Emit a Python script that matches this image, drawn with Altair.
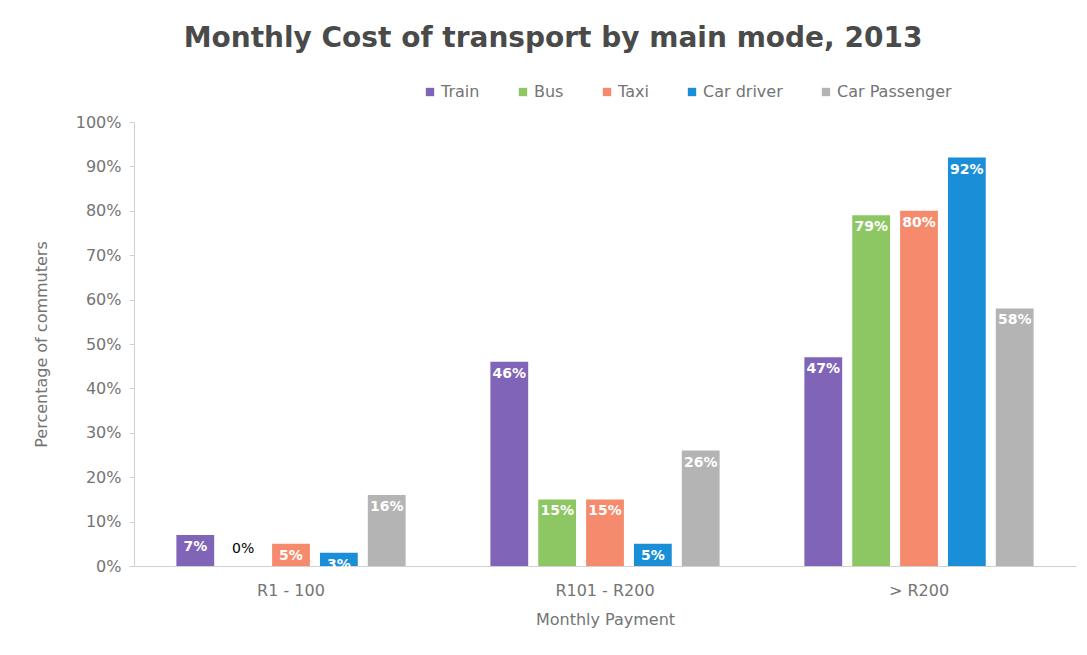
import altair as alt
import pandas as pd

categories = ["R1 - 100", "R101 - R200", "> R200"]
modes = ["Train", "Bus", "Taxi", "Car driver", "Car Passenger"]
train = [7, 46, 47]
bus = [0, 15, 79]
taxi = [5, 15, 80]
car_driver = [3, 5, 92]
car_passenger = [16, 26, 58]
colors = ["#8064B8", "#8DC763", "#F58B6C", "#1A8FD8", "#B4B4B4"]
y_ticks = [0, 0.1, 0.2, 0.3, 0.4, 0.5, 0.6, 0.7, 0.8, 0.9, 1.0]

series = [train, bus, taxi, car_driver, car_passenger]
rows = []
for m, vals in zip(modes, series):
    for c, v in zip(categories, vals):
        rows.append({"Payment": c, "Mode": m, "Value": v / 100.0, "Label": f"{v}%"})
df = pd.DataFrame(rows)

FONT = "DejaVu Sans"
GRAY = "#747474"

x = alt.X("Payment:N", sort=categories,
          scale=alt.Scale(paddingInner=0.27, paddingOuter=0.135),
          axis=alt.Axis(title="Monthly Payment", labelAngle=0, labelFontSize=16,
                        labelColor=GRAY, titleColor=GRAY, titleFontSize=16,
                        titleFontWeight="normal", domainColor="#D0D0D0", ticks=False,
                        labelPadding=16, titlePadding=13, labelFont=FONT, titleFont=FONT))
xo = alt.XOffset("Mode:N", sort=modes, scale=alt.Scale(paddingInner=0.21))
y = alt.Y("Value:Q", scale=alt.Scale(domain=[0, 1]),
          axis=alt.Axis(title="Percentage of commuters", format=".0%",
                        values=y_ticks, grid=False, labelOverlap=False,
                        labelFontSize=16, labelColor=GRAY, titleColor=GRAY,
                        titleFontSize=16, titleFontWeight="normal", domainColor="#D0D0D0",
                        tickColor="#D0D0D0", tickSize=5, labelPadding=8, titlePadding=26,
                        labelFont=FONT, titleFont=FONT))

color = alt.Color("Mode:N", sort=modes, scale=alt.Scale(domain=modes, range=colors),
                  legend=alt.Legend(title=None, orient="none", direction="horizontal",
                                    legendX=288, legendY=-38,
                                    symbolType="square", symbolSize=70, labelFontSize=16,
                                    labelColor=GRAY, labelFont=FONT, columnPadding=35,
                                    symbolStrokeWidth=0, labelOffset=3))

bars = alt.Chart(df).mark_bar().encode(x=x, xOffset=xo, y=y, color=color)

labels_in = alt.Chart(df).transform_filter("datum.Value > 0").mark_text(
    baseline="top", dy=5, color="white", fontSize=14, fontWeight="bold", font=FONT
).encode(x=x, xOffset=xo, y=y, text="Label:N")

labels_zero = alt.Chart(df).transform_filter("datum.Value == 0").mark_text(
    baseline="bottom", dy=-10, color="black", fontSize=14, font=FONT
).encode(x=x, xOffset=xo, y=y, text="Label:N")

chart = alt.layer(bars, labels_in, labels_zero).properties(
    width=942, height=444,
    autosize=alt.AutoSizeParams(type="none"),
    padding={"left": 126, "top": 114, "right": 2, "bottom": 80},
    background="white",
    title=alt.TitleParams("Monthly Cost of transport by main mode, 2013", fontSize=28,
                          fontWeight="bold", color="#4a4a4a", font=FONT, dx=-52,
                          anchor="middle", offset=31),
).configure_view(stroke=None)

chart.save("out.html", embed_options={"renderer": "svg", "actions": False})
